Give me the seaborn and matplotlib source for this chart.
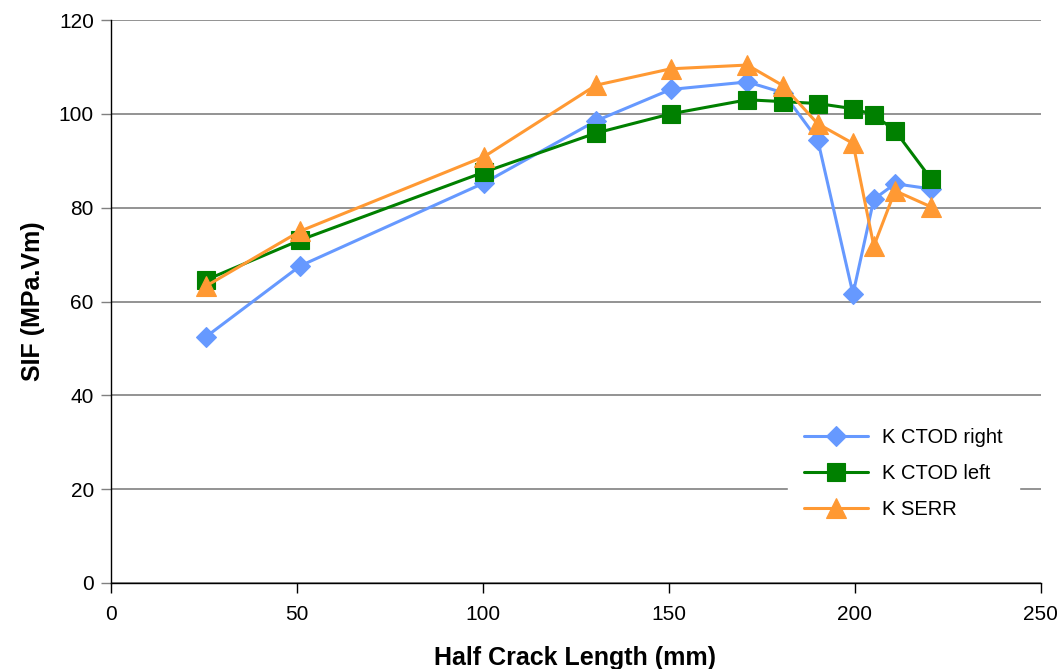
import matplotlib
matplotlib.use("Agg")
import matplotlib.pyplot as plt
import seaborn as sns
import pandas as pd

half_crack = [25.7, 51.0, 100.5, 130.5, 150.6, 171.2, 180.8, 190.1, 199.6, 205.2, 210.9, 220.5]
k_ctod_right = [52.5, 67.6, 85.3, 98.5, 105.2, 106.8, 104.5, 94.5, 61.6, 81.8, 85.1, 84.0]
k_ctod_left = [64.6, 73.1, 87.6, 95.9, 100.0, 103.0, 102.6, 102.2, 101.1, 99.8, 96.4, 86.2]
k_serr = [63.3, 75.0, 90.9, 106.1, 109.6, 110.4, 106.0, 97.9, 93.7, 71.8, 83.6, 80.2]

series_names = ["K CTOD right", "K CTOD left", "K SERR"]
series_values = [k_ctod_right, k_ctod_left, k_serr]

sns.set_theme(style="white")
plt.rcParams["font.family"] = ["Liberation Sans", "DejaVu Sans"]
for k in ["text.color", "axes.labelcolor", "xtick.color", "ytick.color"]:
    plt.rcParams[k] = "black"

fig = plt.figure(figsize=(10.58, 6.69), dpi=100)
ax = fig.add_axes([110.5 / 1058, 1 - 583 / 669, 930 / 1058, 563 / 669])

styles = [
    dict(color="#6699FF", marker="D", markersize=10),
    dict(color="#008000", marker="s", markersize=13),
    dict(color="#FF9933", marker="^", markersize=14),
]

for name, vals, st in zip(series_names, series_values, styles):
    df = pd.DataFrame({"x": half_crack, "y": vals})
    sns.lineplot(data=df, x="x", y="y", sort=False, ax=ax, label=name,
                 color=st["color"], marker=st["marker"], markersize=st["markersize"],
                 markeredgecolor=st["color"], markeredgewidth=0.8, linewidth=2.2)

ax.set_xlim(0, 250)
ax.set_ylim(0, 120)
ax.set_xticks([0, 50, 100, 150, 200, 250])
ax.set_yticks([0, 20, 40, 60, 80, 100, 120])
ax.yaxis.grid(True, color="#808080", linewidth=1.2)
ax.set_axisbelow(True)
for s in ["top", "right"]:
    ax.spines[s].set_visible(False)
for s in ["left", "bottom"]:
    ax.spines[s].set_color("black")
    ax.spines[s].set_linewidth(1.0)
ax.tick_params(axis="both", which="both", direction="out", length=7, width=1,
               color="black", labelsize=15, left=True, bottom=True)
ax.tick_params(axis="y", pad=5, color="#808080")
ax.tick_params(axis="x", pad=9)

ax.set_xlabel("Half Crack Length (mm)", fontsize=18, fontweight="bold", labelpad=16)
ax.set_ylabel("SIF (MPa.Vm)", fontsize=18, fontweight="bold", labelpad=10)

leg = ax.legend(loc="lower right", bbox_to_anchor=(0.9877, 0.067), frameon=True,
                fontsize=14.5, handlelength=3.2, labelspacing=0.85,
                borderpad=0.8, handletextpad=0.7, fancybox=False)
leg.get_frame().set_edgecolor("white")
leg.get_frame().set_facecolor("white")
leg.get_frame().set_alpha(1.0)

fig.savefig("out.png", dpi=100)
